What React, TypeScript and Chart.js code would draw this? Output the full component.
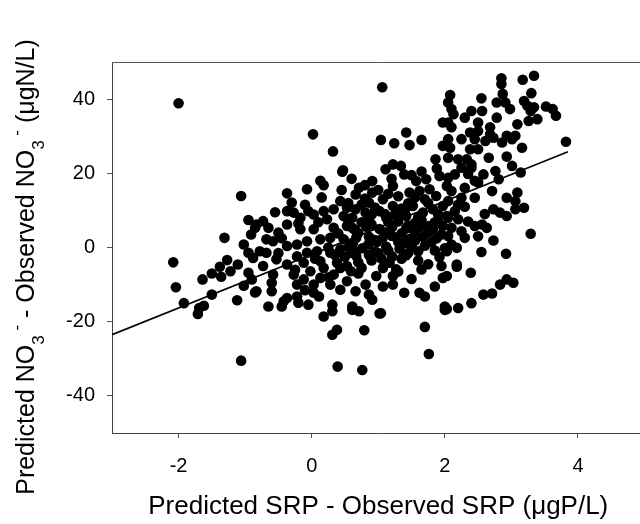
import React, { useEffect, useRef } from "react";
import { Chart, registerables } from "chart.js";

Chart.register(...registerables);

// Predicted SRP - Observed SRP (µgP/L)
const srpDiff: number[] = [
  -2.0, -1.06, -0.95, -0.85, -0.91, -1.31, -1.02, -0.95, -2.08, -1.27, -1.38, -1.11, -1.5, -1.22, -1.36, -1.64, -0.95, -0.9, -1.02, -0.85, -2.04, -1.5, -1.92, -1.62, -1.69, -1.71, -1.12, -1.06,
  0.46, 0.13, 0.18, -0.07, -0.37, -0.3, 0.43, 0.33, 0.53, 0.18, -0.37, -0.27, -0.05, 0.03, 0.48, -0.17, -0.37, 0.23, -0.73, -0.65, -0.83, -0.5, -0.17, 0.03, 0.33, 0.53, -0.68, -0.58, -0.37, -0.22, -0.07, 0.13, 0.28, 0.48, -0.78, -0.68, -0.88, -0.53, -0.22, -0.07, 0.08, 0.28, 0.43, 0.59, -0.37, -0.12, 0.13, 0.38, 0.53, -0.73,
  -0.58, -0.83, -0.6, -0.65, -0.42, -0.37, -0.45, -0.22, -0.2, -0.05, 0.03, 0.11, -0.22, -0.12, -0.27, 0.31, 0.31, 0.18, 0.61, 0.38, 0.31, 0.39, -0.02, 0.13, 0.28, 0.43, 0.53, 0.33, 0.59, 0.18, 0.03, 0.43,
  1.04, 1.24, 1.42, 1.47, 1.65, 1.97, 1.97, 1.86, 1.88, 1.22, 1.34, 1.11, 1.39, 0.91, 0.71, 1.22, 0.66, 0.91, 1.07, 1.57, 1.72, 1.92, 2.03, 1.47, 1.62, 1.77, 1.87, 0.66, 0.86, 0.81, 1.02, 1.22, 1.32, 1.52, 1.67, 1.82, 1.97, 2.03, 0.61, 1.12, 1.42, 0.75, 1.45, 1.75, 0.9, 1.25, 1.6, 1.9,
  1.17, 1.07, 1.27, 0.97, 1.22, 1.07, 1.22, 0.81, 0.86, 0.91, 0.66, 0.61, 1.39, 1.65, 1.95, 1.97, 1.62, 1.7, 2.0, 1.04,
  0.86, 1.65, 1.3, 0.61, 0.82, 1.02, 1.21, 1.42, 1.62, 1.82, 1.97, 0.67, 0.86, 1.06, 1.27, 1.47, 1.67, 1.88, 0.56, 0.76, 1.12, 1.32, 1.5, 2.0, 0.67, 0.86, 1.21, 1.42, 1.92,
  0.75, 1.15, 1.55, 1.9, 0.7, 1.1, 1.35, 1.75, 0.62, 0.98, 1.4, 1.8, 0.95, 1.6,
  0.71, 1.02, 0.79, 1.7, 1.76, 0.76, 2.0,
  2.85, 2.85, 3.17, 3.34, 3.3, 2.87, 2.55, 2.08, 2.05, 2.1, 2.13, 2.05, 2.1, 2.78, 2.91, 2.98, 3.19, 3.24, 3.52, 3.62, 3.67, 3.29, 3.26, 3.39, 3.34, 2.4, 2.56, 2.3, 2.5, 2.78, 3.09, 2.5, 2.38, 2.68, 2.68, 2.25, 2.45, 2.61, 2.73, 2.93, 3.06, 2.86, 3.01, 3.16, 2.05, 2.08, 2.38, 2.5, 2.66, 2.93, 3.01, 2.2, 2.33, 2.4, 2.05, 3.82,
  3.14, 2.76, 2.81, 2.58, 2.5, 2.71, 2.4, 2.25, 2.15, 2.05, 2.1, 2.3, 2.45, 2.25, 2.05, 2.15, 2.05, 2.2, 2.1, 2.25, 2.3, 2.05, 2.1, 2.18, 2.03, 2.18, 2.93, 3.09, 3.06, 3.19, 3.06, 2.73, 2.83, 2.93, 2.45, 2.56, 2.63, 2.73, 3.29, 2.55, 2.92, 2.3, 2.45, 2.35,
  2.18, 2.39, 2.03, 2.03, 2.2, 2.4, 2.58, 2.71, 2.83, 2.93, 3.03,
  0.02, 0.32, 0.47, 1.06,
  0.5, 0.7, 0.9, 1.0, 1.15, 1.3, 1.55, 1.7, 1.85, 0.85, 0.65, 0.9, 1.1, 1.35, 1.55, 1.3, 0.8, 0.55, 1.0, 1.65, 1.2, 0.6, 1.45, 1.75, 1.95, 1.6, 1.35, 0.4, 0.25, 0.05, -0.25, -0.5, -0.45, -0.1, 0.15, 0.7, 1.5, 1.85,
  0.35, 0.75, 1.05, 1.45, 1.75, 0.95, 1.2, 1.55, 1.85, 0.55, 0.95, 1.4, 1.7, 1.15, 0.45, 0.8, 1.5, 2.2, 2.35, 2.5, 2.6, -0.55, -0.2, 0.1, -0.6, -0.1, 0.65, 1.3, 0.25,
];

// Predicted NO3- - Observed NO3- (µgN/L)
const no3Diff: number[] = [
  38.9, 13.9, 7.4, 5.3, 3.5, 2.6, 0.8, -1.4, -4.0, -3.4, -5.2, -4.6, -7.0, -6.4, -7.9, -8.6, -6.8, -8.6, -10.3, -12.1, -10.7, -12.7, -15.0, -15.7, -16.3, -17.9, -14.2, -30.5,
  20.4, 18.0, 16.8, 15.7, 14.6, 12.1, 12.5, 10.3, 10.7, 9.8, 9.8, 9.4, 9.8, 8.9, 8.5, 8.0, 6.2, 7.6, 7.1, 5.3, 6.2, 4.0, 4.9, 4.9, 5.3, 5.8, 2.2, 1.7, 0.4, 0.8, 1.7, 2.2, 2.6, 2.2, -1.0, -1.4, -2.8, -3.2, -2.4, -1.4, -1.0, -1.4, -0.5, -1.4, -4.6, -4.1, -3.7, -4.1, -5.0, -5.0,
  -7.3, -11.8, -11.8, -15.9, -14.5, -13.6, -15.9, -13.2, -14.9, -15.4, -12.2, -13.2, -10.0, -8.6, -7.3, -15.4, -17.2, -18.6, -16.8, -22.2, -23.5, -32.1, -6.4, -8.2, -10.0, -11.4, -9.1, -7.3, -6.4, -5.5, -10.0, -5.5,
  29.0, 28.1, 31.0, 27.6, 29.0, 33.7, 27.4, 23.8, 21.3, 22.4, 22.0, 21.1, 19.7, 17.9, 16.1, 16.6, 14.3, 14.8, 13.0, 17.9, 18.4, 19.3, 16.6, 14.8, 15.2, 15.7, 13.9, 10.3, 12.1, 9.4, 9.8, 11.2, 9.4, 11.2, 9.4, 10.3, 11.2, 8.5, 8.0, 8.0, 8.5, 11.6, 11.9, 12.0, 8.9, 8.9, 8.2, 8.9,
  -4.1, -5.5, -5.9, -7.7, -7.7, -10.5, -10.0, -10.0, -12.7, -14.1, -11.8, -15.9, -12.2, -5.9, -5.0, -8.2, -12.2, -13.2, -15.9, -17.7,
  7.6, 7.4, 7.0, 5.3, 5.6, 5.0, 5.5, 5.1, 5.4, 4.9, 5.8, 2.6, 2.9, 2.4, 2.7, 2.3, 2.8, 2.5, 0.1, -0.2, 0.2, -0.3, 0.3, -0.2, -2.3, -2.0, -2.4, -2.1, -2.6,
  6.8, 6.9, 6.6, 7.0, 3.9, 4.1, 3.8, 4.0, 1.3, 1.5, 1.2, 1.4, -1.1, -1.0,
  -17.2, -17.8, -22.3, -21.4, -28.7, -33.0, -16.8,
  45.6, 44.1, 45.2, 46.3, 41.6, 41.4, 40.2, 41.1, 39.1, 37.3, 35.9, 33.7, 32.4, 39.1, 39.1, 37.3, 39.5, 38.2, 38.0, 37.3, 35.5, 36.8, 34.1, 34.6, 37.8, 36.8, 36.8, 35.0, 33.7, 35.0, 33.2, 31.4, 31.0, 32.4, 30.5, 29.2, 29.2, 28.7, 29.6, 30.1, 30.1, 28.3, 29.2, 26.9, 29.2, 26.9, 26.5, 26.5, 24.2, 24.5, 22.0, 23.8, 23.8, 22.4, 24.2, 28.5,
  20.2, 20.6, 18.4, 19.7, 17.5, 15.2, 21.5, 21.5, 19.7, 18.8, 15.2, 16.1, 13.4, 13.4, 12.5, 9.8, 8.0, 7.6, 5.3, 4.4, 2.6, 3.1, 0.8, -0.1, -1.0, -4.6, 13.4, 14.8, 12.5, 10.7, 10.3, 10.3, 9.4, 8.5, 5.8, 6.2, 5.3, 1.9, 3.7, -1.2, -1.7, 11.0, 18.0, 19.8,
  -5.2, -6.8, -7.7, -16.6, -16.3, -15.0, -12.7, -12.4, -10.0, -8.6, -9.5,
  30.5, 25.9, 20.8, 43.2,
  -2.5, -4.0, -3.5, -1.5, -0.8, 1.5, 1.8, 0.5, -0.8, 0.8, 4.8, 6.2, 9.0, 10.5, 13.5, 13.8, 13.2, 12.0, 15.5, 20.5, 18.5, 18.5, 5.9, 5.8, 3.5, -3.5, -3.0, 3.8, 0.0, -3.0, -6.0, -1.5, 2.5, 11.5, 13.5, -7.0, -8.5, -10.5,
  -2.0, -5.5, -3.0, -1.5, -4.5, 2.0, 3.2, 4.2, 6.8, 7.2, 10.8, 10.0, 13.0, 14.5, 15.5, 16.8, 19.5, 11.5, 7.0, 3.0, 9.0, 9.5, 6.5, 6.8, -9.5, -11.5, -1.0, -6.5, -8.0,
];

// Regression line end points
const fitX: number[] = [-3, 3.85];
const fitY: number[] = [-23.5, 25.8];

const xTicks: number[] = [-2, 0, 2, 4];
const yTicks: number[] = [-40, -20, 0, 20, 40];

const xTitle = "Predicted SRP - Observed SRP (\u03bcgP/L)";
const yTitleParts: { t: string; k: "n" | "sub" | "sup" }[] = [
  { t: "Predicted NO", k: "n" },
  { t: "3", k: "sub" },
  { t: " -", k: "sup" },
  { t: " - Observed NO", k: "n" },
  { t: "3", k: "sub" },
  { t: " -", k: "sup" },
  { t: " (\u03bcgN/L)", k: "n" },
];

const FONT = "'Liberation Sans', Arial, Helvetica, sans-serif";

export default function App() {
  const ref = useRef<HTMLCanvasElement | null>(null);

  useEffect(() => {
    const canvas = ref.current;
    if (!canvas) return;
    const points = srpDiff.map((x, i) => ({ x, y: no3Diff[i] }));
    const fit = fitX.map((x, i) => ({ x, y: fitY[i] }));

    const framePlugin = {
      id: "frame",
      afterDatasetsDraw(chart: any) {
        const { ctx, chartArea } = chart;
        ctx.save();
        ctx.strokeStyle = "#555";
        ctx.lineWidth = 1;
        ctx.beginPath();
        ctx.moveTo(chartArea.left, Math.round(chartArea.top) + 0.5);
        ctx.lineTo(chartArea.right, Math.round(chartArea.top) + 0.5);
        ctx.moveTo(Math.round(chartArea.right) + 0.5, chartArea.top);
        ctx.lineTo(Math.round(chartArea.right) + 0.5, chartArea.bottom);
        ctx.stroke();
        ctx.restore();
      },
    };

    const titlePlugin = {
      id: "titles",
      afterDraw(chart: any) {
        const { ctx, chartArea } = chart;
        ctx.save();
        ctx.fillStyle = "#000";
        ctx.textBaseline = "alphabetic";
        // x title
        ctx.font = `26px ${FONT}`;
        ctx.textAlign = "center";
        ctx.fillText(xTitle, (chartArea.left + chartArea.right) / 2, 514);
        // y title with sub/superscripts
        ctx.textAlign = "left";
        const fontFor = (k: string) => (k === "n" ? `25px ${FONT}` : `17px ${FONT}`);
        const dyFor = (k: string) => (k === "sub" ? 10 : k === "sup" ? -12 : 0);
        let total = 0;
        for (const p of yTitleParts) {
          ctx.font = fontFor(p.k);
          total += ctx.measureText(p.t).width;
        }
        ctx.translate(34, 267);
        ctx.rotate(-Math.PI / 2);
        let x = -total / 2;
        for (const p of yTitleParts) {
          ctx.font = fontFor(p.k);
          ctx.fillText(p.t, x, dyFor(p.k));
          x += ctx.measureText(p.t).width;
        }
        ctx.restore();
      },
    };

    const chart = new Chart(canvas, {
      type: "scatter",
      data: {
        datasets: [
          {
            data: points,
            pointRadius: 5.3,
            pointBackgroundColor: "#000",
            pointBorderWidth: 0,
            showLine: false,
            order: 2,
          } as any,
          {
            type: "line",
            data: fit,
            borderColor: "#000",
            borderWidth: 1.6,
            pointRadius: 0,
            showLine: true,
            fill: false,
            order: 1,
          } as any,
        ],
      },
      options: {
        animation: false,
        responsive: false,
        devicePixelRatio: 1,
        layout: { padding: { top: 62, right: 15.5, left: 0, bottom: 0 } },
        plugins: { legend: { display: false }, tooltip: { enabled: false } },
        scales: {
          x: {
            type: "linear",
            min: -3,
            max: 5,
            afterBuildTicks: (s: any) => {
              s.ticks = xTicks.map((v) => ({ value: v }));
            },
            afterFit: (s: any) => {
              s.height = 91;
            },
            grid: { drawOnChartArea: false, tickLength: 5, color: "#555", tickColor: "#555" },
            border: { color: "#444", width: 1 },
            ticks: { font: { family: FONT, size: 20 }, color: "#000", padding: 16, maxRotation: 0 },
          },
          y: {
            type: "linear",
            min: -50,
            max: 50,
            afterBuildTicks: (s: any) => {
              s.ticks = yTicks.map((v) => ({ value: v }));
            },
            afterFit: (s: any) => {
              s.width = 112;
            },
            grid: { drawOnChartArea: false, tickLength: 5, color: "#555", tickColor: "#555" },
            border: { color: "#444", width: 1 },
            ticks: { font: { family: FONT, size: 20 }, color: "#000", padding: 12 },
          },
        },
      } as any,
      plugins: [framePlugin, titlePlugin],
    });
    return () => chart.destroy();
  }, []);

  return (
    <div
      style={{
        position: "fixed",
        left: 0,
        top: 0,
        width: 640,
        height: 524,
        overflow: "hidden",
        background: "#fff",
      }}
    >
      <canvas ref={ref} width={660} height={524} style={{ display: "block", width: 660, height: 524 }} />
    </div>
  );
}
